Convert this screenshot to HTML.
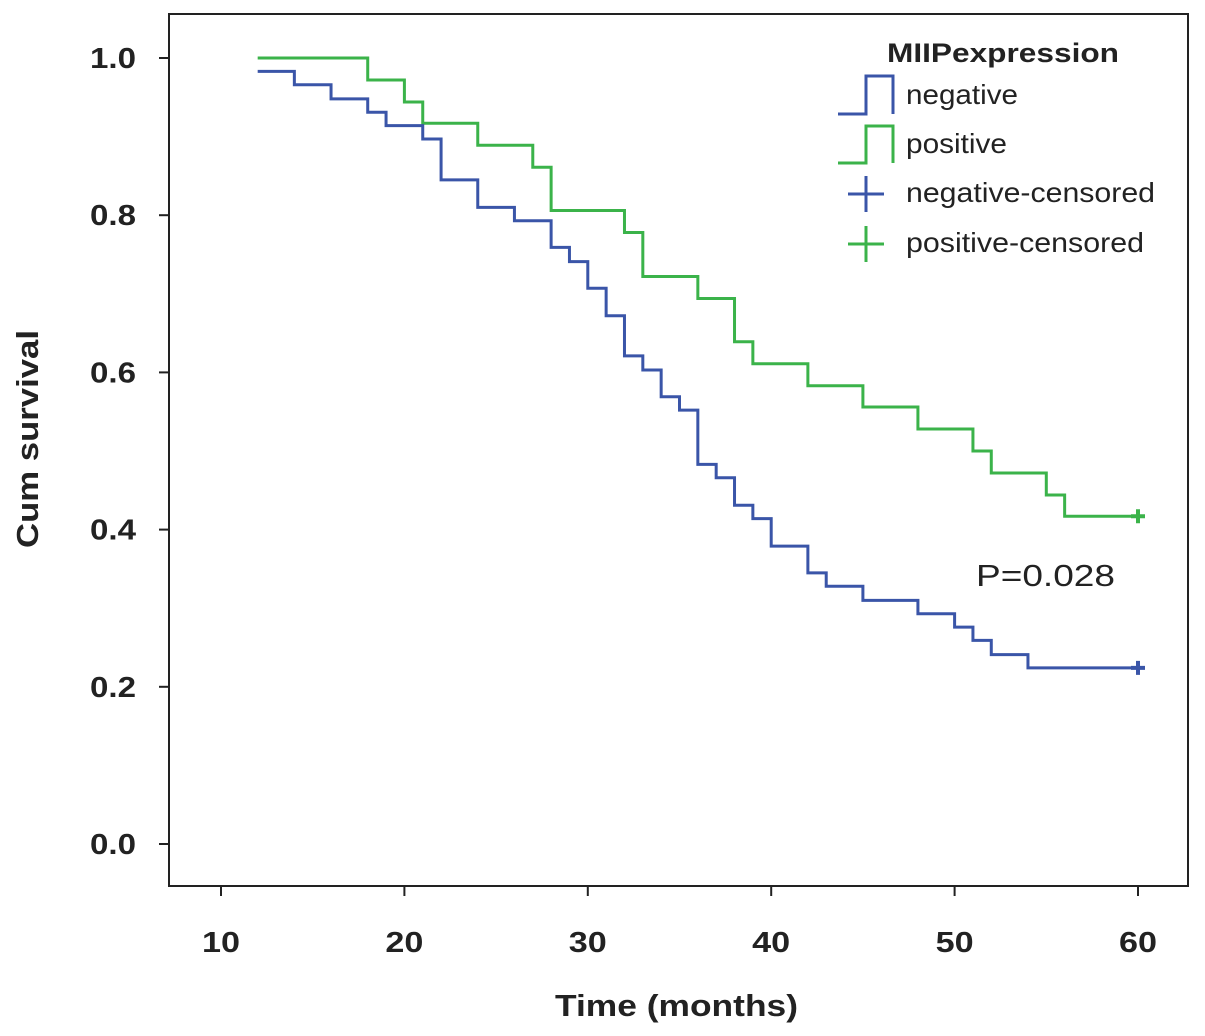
<!DOCTYPE html>
<html><head><meta charset="utf-8"><style>
body{margin:0;background:#fff;}
svg{display:block;font-family:"Liberation Sans",Arial,sans-serif;}
</style></head><body>
<svg id="chart" width="1205" height="1036" viewBox="0 0 1205 1036">
<rect x="169" y="14" width="1019" height="872" fill="#fff" stroke="#222" stroke-width="2"/>
<g id="axes"></g>
<g id="curves"></g>
<text x="28" y="439" transform="rotate(-90 28 439)" text-anchor="middle" font-size="31" font-weight="bold" fill="#222" dy="10" textLength="218" lengthAdjust="spacingAndGlyphs">Cum survival</text>
<text x="555" y="1016" font-size="31" font-weight="bold" fill="#222" textLength="243" lengthAdjust="spacingAndGlyphs">Time (months)</text>
<text x="976" y="586" font-size="31" fill="#222" textLength="139" lengthAdjust="spacingAndGlyphs">P=0.028</text>
<g>
<text x="887" y="62" font-size="27" font-weight="bold" fill="#222" textLength="232" lengthAdjust="spacingAndGlyphs">MIIPexpression</text>
<path d="M838 114H866V76H893V114" fill="none" stroke="#3a55a8" stroke-width="3"/>
<text x="906" y="104" font-size="28" fill="#222" textLength="112" lengthAdjust="spacingAndGlyphs">negative</text>
<path d="M838 163H866V126H893V163" fill="none" stroke="#3bb34a" stroke-width="3"/>
<text x="906" y="153" font-size="28" fill="#222" textLength="101" lengthAdjust="spacingAndGlyphs">positive</text>
<path d="M848 194H884M866 176V212" stroke="#3a55a8" stroke-width="3"/>
<text x="906" y="202" font-size="28" fill="#222" textLength="249" lengthAdjust="spacingAndGlyphs">negative-censored</text>
<path d="M848 244H884M866 226V262" stroke="#3bb34a" stroke-width="3"/>
<text x="906" y="252" font-size="28" fill="#222" textLength="238" lengthAdjust="spacingAndGlyphs">positive-censored</text>
</g>
</svg>
<script>
const xTicks=[10,20,30,40,50,60];
const yTicks=[0.0,0.2,0.4,0.6,0.8,1.0];
const yTickLabels=["0.0","0.2","0.4","0.6","0.8","1.0"];
const negTimes=[12,14,16,18,19,21,22,24,26,28,29,30,31,32,33,34,35,36,37,38,39,40,42,43,45,48,50,51,52,54];
const negSurv=[0.983,0.966,0.948,0.931,0.914,0.897,0.845,0.81,0.793,0.759,0.741,0.707,0.672,0.621,0.603,0.569,0.552,0.483,0.466,0.431,0.414,0.379,0.345,0.328,0.31,0.293,0.276,0.259,0.241,0.224];
const posTimes=[12,18,20,21,24,27,28,32,33,36,38,39,42,45,48,51,52,55,56];
const posSurv=[1.0,0.972,0.944,0.917,0.889,0.861,0.806,0.778,0.722,0.694,0.639,0.611,0.583,0.556,0.528,0.5,0.472,0.444,0.417];
const endTime=60;
const X=t=>221+(t-10)*(1138-221)/50;
const Y=v=>844-v*786;
const NS="http://www.w3.org/2000/svg";
const axes=document.getElementById('axes'),curves=document.getElementById('curves');
function mk(tag,attrs,parent){const e=document.createElementNS(NS,tag);for(const k in attrs)e.setAttribute(k,attrs[k]);parent.appendChild(e);return e;}
xTicks.forEach(t=>{
 const l=mk('line',{x1:X(t),x2:X(t),y1:886,y2:896,stroke:'#222','stroke-width':2},axes);
 
 
 const tx=mk('text',{x:X(t),y:952,'text-anchor':'middle','font-size':29,'font-weight':'bold',fill:'#222',textLength:38,lengthAdjust:'spacingAndGlyphs'},axes);
 tx.textContent=t;
 
 
});
yTicks.forEach((v,i)=>{
 const l=mk('line',{x1:159,x2:169,y1:Y(v),y2:Y(v),stroke:'#222','stroke-width':2},axes);
 
 
 const tx=mk('text',{x:90,y:Y(v)+10,'font-size':29,'font-weight':'bold',fill:'#222',textLength:46,lengthAdjust:'spacingAndGlyphs'},axes);
 tx.textContent=yTickLabels[i];
 
 
});
function curve(times,surv,color,name){
 let d='M'+X(times[0])+' '+Y(surv[0]);
 for(let i=1;i<times.length;i++){d+='H'+X(times[i])+'V'+Y(surv[i]);}
 d+='H'+X(endTime);
 const p=mk('path',{d:d,fill:'none',stroke:color,'stroke-width':3},curves);
 
 
 const last=surv[surv.length-1];
 const c=mk('path',{d:'M'+(X(endTime)-7)+' '+Y(last)+'h14M'+X(endTime)+' '+(Y(last)-7)+'v14',stroke:color,'stroke-width':4},curves);
 
 
}
curve(posTimes,posSurv,'#3bb34a','positive');
curve(negTimes,negSurv,'#3a55a8','negative');
</script>
</body></html>
